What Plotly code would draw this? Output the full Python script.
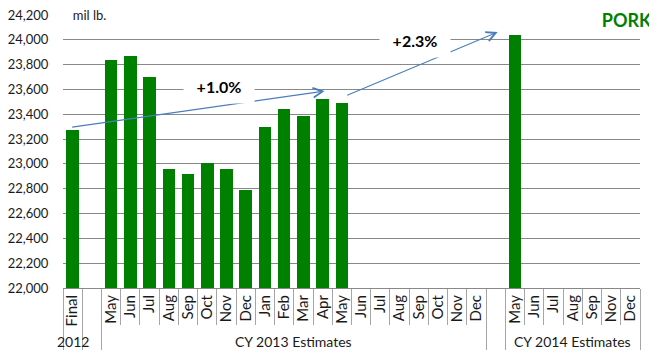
import plotly.graph_objects as go

# ---- data ----
categories = ["Final", "",
              "May", "Jun", "Jul", "Aug", "Sep", "Oct", "Nov", "Dec",
              "Jan", "Feb", "Mar", "Apr", "May", "Jun", "Jul", "Aug", "Sep", "Oct", "Nov", "Dec",
              "",
              "May", "Jun", "Jul", "Aug", "Sep", "Nov", "Dec"]
values = [23270, None,
          23840, 23870, 23700, 22960, 22920, 23010, 22960, 22790,
          23300, 23440, 23390, 23520, 23490, None, None, None, None, None, None, None,
          None,
          24040, None, None, None, None, None, None]
groups = [("2012", 0, 0), ("CY 2013 Estimates", 2, 21), ("CY 2014 Estimates", 23, 29)]
group_edges = [-0.5, 0.5, 1.5, 21.5, 22.5, 29.5]
y_ticks = list(range(22000, 24201, 200))

GREEN = "#008000"
GRID = "#888888"
SEP = "#a6a6a6"
ARROW = "#4a7ebb"
FONT = "Lato"

idx = list(range(len(categories)))
xr = [-0.5, len(categories) - 0.5]

fig = go.Figure()
fig.add_trace(go.Bar(x=idx, y=values, marker=dict(color=GREEN, line=dict(width=0)),
                     width=0.65, hoverinfo="skip", showlegend=False))
# helper empty traces for the separator axes
fig.add_trace(go.Scatter(x=[], y=[], xaxis="x2", showlegend=False, hoverinfo="skip"))
fig.add_trace(go.Scatter(x=[], y=[], xaxis="x3", showlegend=False, hoverinfo="skip"))

short_edges = [i + 0.5 for i in range(-1, len(categories))]

# page body has an 8px default margin, so the figure is sized to fit the window
fig.update_layout(
    width=649, height=354,
    margin=dict(l=55, r=17, t=7, b=74, autoexpand=False),
    paper_bgcolor="white", plot_bgcolor="white",
    font=dict(family=FONT, size=13, color="#1a1a1a"),
    bargap=0,
    xaxis=dict(range=xr, tickmode="array", tickvals=idx, ticktext=categories,
               tickangle=-90, ticks="", showgrid=False, zeroline=False, automargin=False,
               showline=True, linecolor=GRID, linewidth=1,
               tickfont=dict(size=15, family=FONT, color="#1a1a1a")),
    xaxis2=dict(range=xr, overlaying="x", side="bottom", anchor="y", automargin=False,
                tickmode="array", tickvals=short_edges, ticks="outside",
                ticklen=36, tickcolor=SEP, tickwidth=1, showticklabels=False,
                showgrid=False, zeroline=False, showline=False),
    xaxis3=dict(range=xr, overlaying="x", side="bottom", anchor="y", automargin=False,
                tickmode="array", tickvals=group_edges, ticks="outside",
                ticklen=61, tickcolor=SEP, tickwidth=1, showticklabels=False,
                showgrid=False, zeroline=False, showline=False),
    yaxis=dict(range=[22000, 24200], tickmode="array", tickvals=y_ticks, automargin=False,
               tickformat=",d", showgrid=True, gridcolor=GRID, gridwidth=1.2,
               zeroline=False, showline=False, ticks="outside", ticklen=11,
               ticklabeloverflow="allow",
               tickcolor="rgba(0,0,0,0)", tickfont=dict(size=13, family=FONT, color="#1a1a1a")),
)

annotations = []
# group labels
for name, a, b in groups:
    annotations.append(dict(x=(a + b) / 2, y=-0.195, xref="x", yref="paper",
                            text=name, showarrow=False, xanchor="center", yanchor="middle",
                            font=dict(size=14, family=FONT, color="#1a1a1a")))
# trend arrows
arrows = [((-0.1, 23295), (13.1, 23587)), ((14.2, 23549), (22.1, 24062))]
for (x0, y0), (x1, y1) in arrows:
    annotations.append(dict(x=x1, y=y1, ax=x0, ay=y0, xref="x", yref="y", axref="x", ayref="y",
                            text="", showarrow=True, arrowhead=5, arrowsize=1.7,
                            arrowwidth=1.1, arrowcolor=ARROW, standoff=0, startstandoff=0))
# percent labels with white boxes
for txt, xx, yy in [("+1.0%", 7.63, 23628), ("+2.3%", 17.8, 24000)]:
    annotations.append(dict(x=xx, y=yy, xref="x", yref="y", text="<b>" + txt + "</b>",
                            showarrow=False, bgcolor="white", width=62, height=26, borderpad=4,
                            font=dict(size=16, family=FONT, color="#000000")))
# units label
annotations.append(dict(x=0.89, y=24200, xref="x", yref="y", text="mil lb.", showarrow=False,
                        bgcolor="white", width=47, height=16, borderpad=4,
                        font=dict(size=13, family=FONT, color="#1a1a1a")))
# PORK label
annotations.append(dict(x=(627 - 63) / 577, y=(288 - 20) / 273, xref="paper", yref="paper",
                        text="<b>PORK</b>", showarrow=False, bgcolor="white", width=58, height=22,
                        borderpad=3, xanchor="center", yanchor="middle",
                        font=dict(size=18, family=FONT, color=GREEN)))
fig.update_layout(annotations=annotations)

fig.write_html("out.html")
